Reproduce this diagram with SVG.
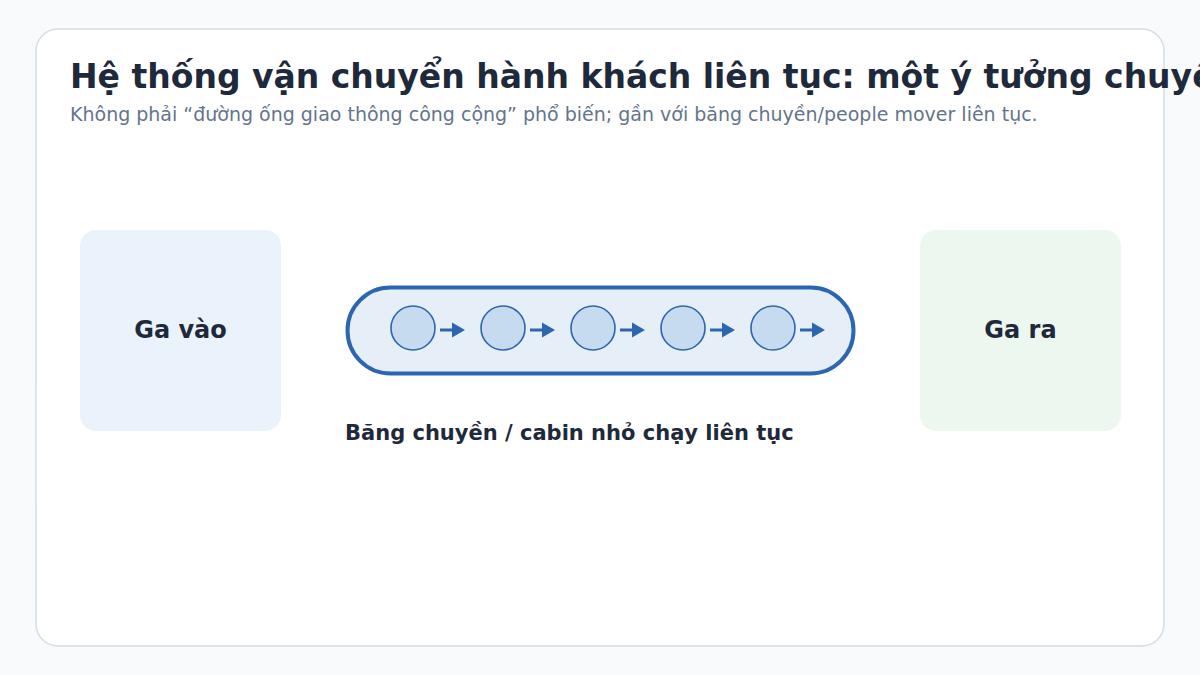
<svg xmlns="http://www.w3.org/2000/svg" width="1200" height="675" viewBox="0 0 1200 675">
<defs>
<style>
.title{font-family:"DejaVu Sans","Noto Sans",sans-serif;font-weight:bold;font-size:33px;fill:#1e293b}
.sub{font-family:"DejaVu Sans","Noto Sans",sans-serif;font-size:19px;fill:#64748b}
.lbl{font-family:"DejaVu Sans","Noto Sans",sans-serif;font-weight:bold;font-size:24px;fill:#1e293b;text-anchor:middle}
.cap{font-family:"DejaVu Sans","Noto Sans",sans-serif;font-weight:bold;font-size:21px;fill:#1e293b}
.cabin{fill:#c6daf0;stroke:#2d66b0;stroke-width:1.6}
.flow{stroke:#2d66b0;stroke-width:3;fill:none;marker-end:url(#ah)}
</style>
<marker id="ah" markerUnits="userSpaceOnUse" markerWidth="14" markerHeight="16" refX="1" refY="8" orient="auto">
<path d="M0,0.5 L13,8 L0,15.5 z" fill="#2d66b0"/>
</marker>
</defs>
<rect x="0" y="0" width="1200" height="675" fill="#f8fafc"/>
<rect x="36" y="29" width="1128" height="617" rx="22" fill="#ffffff" stroke="#d5dde8" stroke-width="1.5"/>
<text class="title" x="70" y="87.5">Hệ thống vận chuyển hành khách liên tục: một ý tưởng chuyên biệt</text>
<text class="sub" x="70" y="121">Không phải “đường ống giao thông công cộng” phổ biến; gần với băng chuyền/people mover liên tục.</text>
<g id="ga-vao">
<rect x="80" y="230" width="201" height="201" rx="16" fill="#eaf2fc"/>
<text class="lbl" x="180.5" y="337.5">Ga vào</text>
</g>
<g id="ga-ra">
<rect x="920" y="230" width="201" height="201" rx="16" fill="#ecf7ef"/>
<text class="lbl" x="1020.5" y="337.5">Ga ra</text>
</g>
<g id="bang-chuyen">
<rect x="347.5" y="287.5" width="506" height="86" rx="43" fill="#e6eef7" stroke="#2d66b0" stroke-width="4"/>
<circle class="cabin" cx="413" cy="328" r="22"/>
<circle class="cabin" cx="503" cy="328" r="22"/>
<circle class="cabin" cx="593" cy="328" r="22"/>
<circle class="cabin" cx="683" cy="328" r="22"/>
<circle class="cabin" cx="773" cy="328" r="22"/>
<text class="cap" x="345" y="440">Băng chuyền / cabin nhỏ chạy liên tục</text>
</g>
<g id="connectors">
<line class="flow" x1="440" y1="330" x2="453" y2="330"/>
<line class="flow" x1="530" y1="330" x2="543" y2="330"/>
<line class="flow" x1="620" y1="330" x2="633" y2="330"/>
<line class="flow" x1="710" y1="330" x2="723" y2="330"/>
<line class="flow" x1="800" y1="330" x2="813" y2="330"/>
</g>
</svg>
